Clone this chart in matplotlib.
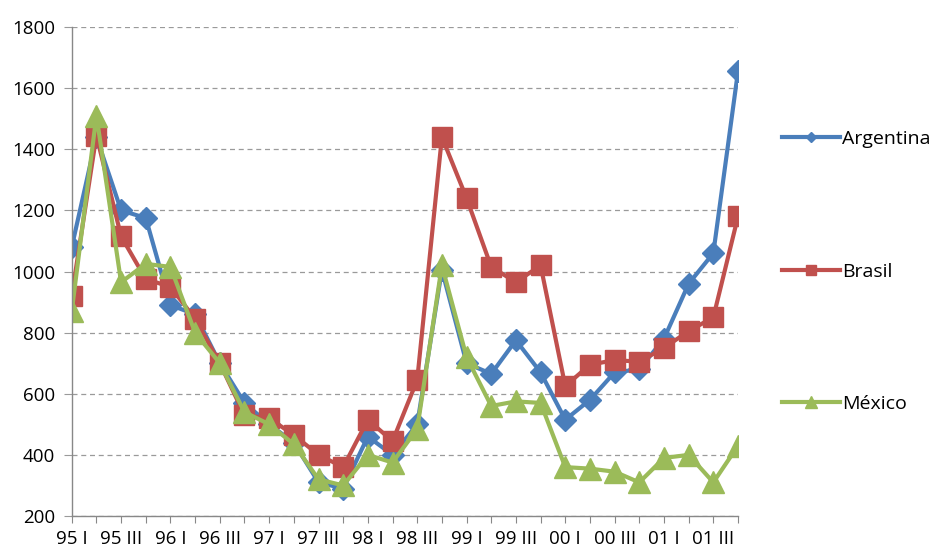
import matplotlib
matplotlib.use("Agg")
import matplotlib.pyplot as plt

# trimestres 95 I ... 01 IV
roman = ["I", "II", "III", "IV"]
quarters = [f"{y:02d} {q}" for y in [95, 96, 97, 98, 99, 0, 1] for q in roman]

argentina = [1080, 1440, 1200, 1175, 890, 860, 700, 570, 500, 440, 310, 290,
             460, 400, 500, 1005, 700, 665, 775, 670, 515, 580, 670, 680,
             780, 960, 1060, 1655]
brasil = [920, 1445, 1115, 975, 950, 845, 700, 530, 520, 465, 400, 360,
          515, 445, 645, 1440, 1240, 1015, 965, 1020, 625, 695, 710, 705,
          750, 805, 850, 1180]
mexico = [870, 1510, 965, 1025, 1015, 800, 700, 540, 500, 435, 320, 300,
          400, 375, 485, 1020, 720, 560, 575, 570, 360, 355, 345, 310,
          390, 400, 310, 430]

series = [
    ("Argentina", argentina, "#4a7ebb", "D", 11),
    ("Brasil", brasil, "#c0504d", "s", 14),
    ("México", mexico, "#9bbb59", "^", 16),
]

plt.rcParams["font.family"] = ["Open Sans", "DejaVu Sans"]

fig = plt.figure(figsize=(9.33, 5.5), dpi=100)
ax = fig.add_axes([0.0769, 0.0618, 0.7141, 0.8891])

x = list(range(len(quarters)))
for name, vals, col, mk, ms in series:
    ax.plot(x, vals, color=col, lw=3.0, marker=mk, markersize=ms,
            markerfacecolor=col, markeredgecolor=col, label=name)

ax.set_xlim(0, len(quarters) - 1)
ax.set_ylim(200, 1800)
ax.set_yticks(range(200, 1801, 200))
ax.yaxis.grid(True, linestyle=(0, (4, 3)), color="#9a9a9a", lw=0.9)
ax.set_axisbelow(True)

ax.set_xticks(x)
ax.set_xticklabels([q if i % 2 == 0 else "" for i, q in enumerate(quarters)])
ax.tick_params(axis="x", length=5, color="#888888", labelsize=13.5, pad=5)
ax.tick_params(axis="y", length=6, color="#9a9a9a", labelsize=13.5, pad=6)

for s in ["top", "right"]:
    ax.spines[s].set_visible(False)
for s in ["left", "bottom"]:
    ax.spines[s].set_color("#888888")
    ax.spines[s].set_linewidth(1.0)

ax.legend(loc="center left", bbox_to_anchor=(1.04, 0.5), frameon=False,
          fontsize=14, labelspacing=5.9, handlelength=3.0, handletextpad=0.1,
          markerscale=0.5)

fig.savefig("out.png", dpi=100)
